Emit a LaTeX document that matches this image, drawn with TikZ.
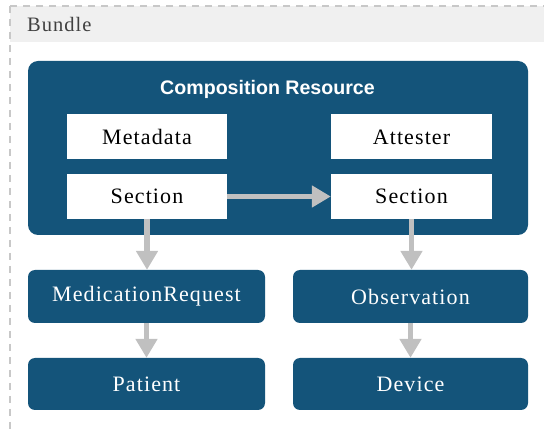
\documentclass[tikz,border=0pt]{standalone}
\usepackage{fontspec}
\setmainfont{Liberation Serif}
\newfontfamily\spaced[LetterSpace=5]{Liberation Serif}
\newfontfamily\titlefont{Liberation Sans}
\usetikzlibrary{arrows.meta,calc}
\definecolor{fhirblue}{HTML}{14547A}
\definecolor{arrowgray}{HTML}{C0C0C0}
\definecolor{headgray}{HTML}{F0F0F0}
\definecolor{dashgray}{HTML}{C8C8C8}
\definecolor{bundletext}{HTML}{404040}
\tikzset{
  whitebox/.style={draw=none, fill=white, minimum width=160pt, minimum height=45pt, inner sep=0pt, font=\spaced\fontsize{22}{26}\selectfont, text=black},
  bluebox/.style={draw=none, fill=fhirblue, rounded corners=7pt, minimum width=237pt, minimum height=53pt, inner sep=0pt, font=\spaced\fontsize{22}{26}\selectfont, text=white},
  flow/.style={draw=arrowgray, line width=5.5pt, -{Triangle[length=19pt,width=21pt]}},
  bundledash/.style={draw=dashgray, line width=1.6pt, dash pattern=on 7pt off 6pt}
}
\begin{document}
\begin{tikzpicture}[x=1pt,y=-1pt]
  \path[use as bounding box, fill=white] (0,0) rectangle (544,430);
  % Bundle header
  \fill[headgray] (10,6) rectangle (544,42);
  \draw[bundledash] (10,6) -- (544,6);
  \draw[bundledash] (10,6) -- (10,430);
  \node[anchor=west, inner sep=0pt, text=bundletext, font=\spaced\fontsize{20.5}{24}\selectfont] (bundle) at (27,24) {Bundle};
  % Composition resource
  \node[fill=fhirblue, rounded corners=10pt, minimum width=500pt, minimum height=174pt, inner sep=0pt] (comp) at (278,148) {};
  \node[text=white, inner sep=0pt, font=\titlefont\bfseries\fontsize{19.6}{22}\selectfont] (title) at (267.5,89) {Composition Resource};
  \node[whitebox] (meta) at (147,136.5) {Metadata};
  \node[whitebox] (sec1) at (147,196.5) {Section};
  \node[whitebox, minimum width=161pt] (att) at (411.5,137) {Attester};
  \node[whitebox, minimum width=161pt] (sec2) at (411.5,196.5) {Section};
  % Resources
  \node[bluebox] (medreq) at (146.5,296.5) {MedicationRequest};
  \node[bluebox, minimum width=235pt] (obs) at (410.5,296.5) {Observation};
  \node[bluebox, minimum height=52pt] (patient) at (146.5,384) {Patient};
  \node[bluebox, minimum width=235pt, minimum height=52pt] (device) at (410.5,384) {Device};
  % Connectors
  \draw[flow] (sec1.east) -- (sec2.west);
  \draw[flow] (sec1.south) -- (sec1.south |- medreq.north);
  \draw[flow] (sec2.south) -- (sec2.south |- obs.north);
  \draw[flow] (medreq.south) -- (medreq.south |- patient.north);
  \draw[flow] (obs.south) -- (obs.south |- device.north);
\end{tikzpicture}
\end{document}
